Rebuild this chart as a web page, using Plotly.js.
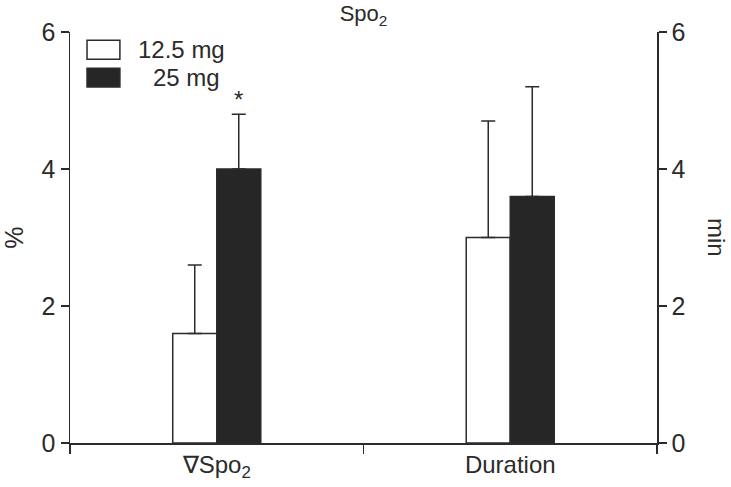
<!DOCTYPE html>
<html><head><meta charset="utf-8">
<script src="https://cdn.plot.ly/plotly-3.0.1.min.js"></script>
<style>html,body{margin:0;padding:0;background:#fff}#chart{width:731px;height:487px}</style>
</head><body><div id="chart"></div>
<script>
const categories = ['∇Spo<sub>2</sub>', 'Duration'];
const seriesNames = ['12.5 mg', '25 mg'];
const lowDose = [1.6, 3.0];
const lowDoseErr = [1.0, 1.7];
const highDose = [4.0, 3.6];
const highDoseErr = [0.8, 1.6];
const yTicks = [0, 2, 4, 6];
const zeros = [0, 0];

const ink = '#2b2b2b';
const FONT = 'Liberation Sans, Arial, sans-serif';
const lowColor = '#ffffff';
const highColor = '#262626';

const traces = [
  {type:'bar', name:seriesNames[0], x:categories, y:lowDose,
   marker:{color:lowColor, line:{color:ink, width:1.5}},
   error_y:{type:'data', symmetric:false, array:lowDoseErr, arrayminus:zeros, color:ink, thickness:1.5, width:7},
   hoverinfo:'skip', showlegend:false},
  {type:'bar', name:seriesNames[1], x:categories, y:highDose,
   marker:{color:highColor, line:{color:ink, width:1.5}},
   error_y:{type:'data', symmetric:false, array:highDoseErr, arrayminus:zeros, color:ink, thickness:1.5, width:7},
   hoverinfo:'skip', showlegend:false},
  {type:'scatter', x:[categories[0]], y:[null], yaxis:'y2', showlegend:false, hoverinfo:'skip'}
];

// legend drawn as boxes + labels (paper coordinates)
const legendShapes = [
  {type:'rect', xref:'paper', yref:'paper', x0:0.029, x1:0.085, y0:0.934, y1:0.980,
   fillcolor:lowColor, line:{color:ink, width:1.5}},
  {type:'rect', xref:'paper', yref:'paper', x0:0.029, x1:0.085, y0:0.866, y1:0.912,
   fillcolor:highColor, line:{color:ink, width:1.5}}
];

const layout = {
  width:731, height:487,
  margin:{l:70, r:74, t:32, b:44},
  paper_bgcolor:'#fff', plot_bgcolor:'#fff',
  font:{family:FONT, size:24, color:ink},
  barmode:'group', bargap:0.7, bargroupgap:0,
  showlegend:false,
  title:{text:'Spo<sub>2</sub>', font:{family:FONT, size:22, color:ink}, x:0.5, xanchor:'center', xref:'paper', y:0.972, yanchor:'middle'},
  xaxis:{type:'category', range:[-0.5, 1.5], showline:true, linecolor:ink, linewidth:1.5,
         ticks:'outside', tickson:'boundaries', ticklen:9, tickwidth:1.5, tickcolor:ink,
         showgrid:false, zeroline:false, tickfont:{size:24}, fixedrange:true},
  yaxis:{range:[0, 6], tickvals:yTicks, showline:true, linecolor:ink, linewidth:1.5,
         ticks:'outside', ticklen:8, tickwidth:1.5, tickcolor:ink, showgrid:false, zeroline:false,
         tickfont:{size:25}, title:{text:'%', font:{size:25}, standoff:11}},
  yaxis2:{range:[0, 6], tickvals:yTicks, overlaying:'y', side:'right', anchor:'x',
          showline:true, linecolor:ink, linewidth:1.5,
          ticks:'outside', ticklen:8, tickwidth:1.5, tickcolor:ink, showgrid:false, zeroline:false,
          tickfont:{size:25}},
  shapes:legendShapes,
  annotations:[
    {text:seriesNames[0], xref:'paper', x:0.1124, xanchor:'left', yref:'paper', y:0.957, yanchor:'middle',
     showarrow:false, font:{size:24, color:ink}},
    {text:seriesNames[1], xref:'paper', x:0.259, xanchor:'right', yref:'paper', y:0.889, yanchor:'middle',
     showarrow:false, font:{size:24, color:ink}},
    {text:'*', x:0, xref:'x', xshift:22, y:highDose[0] + highDoseErr[0], yref:'y', yanchor:'bottom',
     yshift:-1, showarrow:false, font:{size:24, color:ink}},
    {text:'min', xref:'paper', x:1.1005, xanchor:'center', yref:'paper', y:0.499, yanchor:'middle',
     textangle:90, showarrow:false, font:{size:24, color:ink}}
  ]
};

Plotly.newPlot('chart', traces, layout, {staticPlot:true, displayModeBar:false});
</script></body></html>
